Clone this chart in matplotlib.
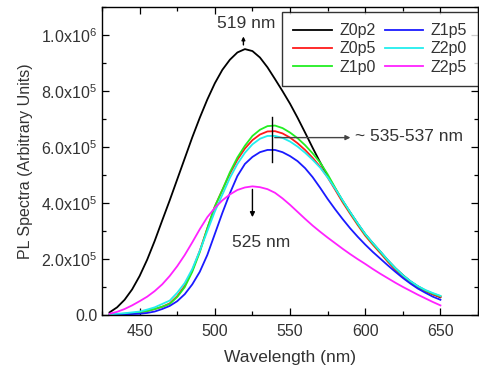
import numpy as np
import matplotlib
matplotlib.use('Agg')
import matplotlib.pyplot as plt
from matplotlib.ticker import MultipleLocator, FuncFormatter

plt.rcParams['font.family'] = ['Liberation Sans', 'DejaVu Sans']
plt.rcParams['mathtext.default'] = 'regular'

# wavelength grid (nm) and PL intensities in units of 1e6
wavelength = np.arange(430, 651, 5)

z0p2 = [0.010, 0.028, 0.055, 0.092, 0.140, 0.198, 0.265, 0.338, 0.410, 0.485,
        0.560, 0.635, 0.705, 0.770, 0.828, 0.876, 0.912, 0.938, 0.950, 0.943,
        0.920, 0.885, 0.843, 0.800, 0.755, 0.705, 0.652, 0.598, 0.546, 0.497,
        0.452, 0.408, 0.367, 0.327, 0.289, 0.257, 0.227, 0.196, 0.168, 0.143,
        0.121, 0.103, 0.088, 0.075, 0.064]
z0p5 = [0.003, 0.004, 0.005, 0.007, 0.010, 0.015, 0.022, 0.030, 0.042, 0.068,
        0.105, 0.160, 0.230, 0.310, 0.388, 0.447, 0.505, 0.555, 0.595, 0.625,
        0.645, 0.656, 0.657, 0.649, 0.634, 0.614, 0.590, 0.562, 0.530, 0.492,
        0.448, 0.403, 0.362, 0.322, 0.284, 0.252, 0.222, 0.191, 0.162, 0.137,
        0.116, 0.099, 0.085, 0.074, 0.065]
z1p0 = [0.003, 0.004, 0.005, 0.007, 0.010, 0.015, 0.022, 0.030, 0.040, 0.065,
        0.100, 0.155, 0.225, 0.310, 0.388, 0.447, 0.510, 0.563, 0.605, 0.640,
        0.662, 0.675, 0.677, 0.668, 0.652, 0.632, 0.607, 0.578, 0.545, 0.503,
        0.455, 0.408, 0.366, 0.326, 0.288, 0.256, 0.226, 0.195, 0.167, 0.142,
        0.120, 0.102, 0.088, 0.077, 0.068]
z1p5 = [0.002, 0.002, 0.003, 0.004, 0.005, 0.008, 0.013, 0.022, 0.033, 0.050,
        0.075, 0.110, 0.155, 0.215, 0.290, 0.365, 0.435, 0.497, 0.540, 0.565,
        0.582, 0.590, 0.590, 0.582, 0.568, 0.550, 0.525, 0.493, 0.455, 0.415,
        0.378, 0.343, 0.310, 0.280, 0.252, 0.226, 0.202, 0.178, 0.155, 0.133,
        0.113, 0.095, 0.080, 0.066, 0.055]
z2p0 = [0.003, 0.005, 0.007, 0.010, 0.013, 0.020, 0.028, 0.040, 0.052, 0.080,
        0.115, 0.165, 0.230, 0.300, 0.370, 0.430, 0.490, 0.540, 0.580, 0.610,
        0.630, 0.640, 0.640, 0.633, 0.620, 0.602, 0.580, 0.555, 0.527, 0.492,
        0.452, 0.410, 0.368, 0.328, 0.290, 0.258, 0.228, 0.197, 0.168, 0.143,
        0.122, 0.104, 0.090, 0.079, 0.069]
z2p5 = [0.005, 0.012, 0.022, 0.035, 0.050, 0.066, 0.086, 0.110, 0.140, 0.175,
        0.215, 0.260, 0.307, 0.350, 0.383, 0.410, 0.431, 0.447, 0.456, 0.460,
        0.457, 0.450, 0.437, 0.417, 0.394, 0.369, 0.344, 0.320, 0.298, 0.277,
        0.257, 0.237, 0.218, 0.200, 0.183, 0.165, 0.148, 0.132, 0.116, 0.101,
        0.087, 0.073, 0.060, 0.047, 0.035]

series = [('Z0p2', z0p2, 'black'), ('Z0p5', z0p5, '#ff1a1a'),
          ('Z1p0', z1p0, '#22ee22'), ('Z1p5', z1p5, '#1a1aff'),
          ('Z2p0', z2p0, '#22eeee'), ('Z2p5', z2p5, '#ff22ff')]

text_color = '#333333'

fig = plt.figure(figsize=(4.79, 3.73), dpi=100)
ax = fig.add_axes([0.213, 0.155, 0.785, 0.826])

for name, vals, c in series:
    ax.plot(wavelength, np.array(vals) * 1e6, color=c, lw=1.3, label=name)

ax.set_xlim(425, 675)
ax.set_ylim(0, 1.1e6)
ax.xaxis.set_major_locator(MultipleLocator(50))
ax.xaxis.set_minor_locator(MultipleLocator(25))
ax.yaxis.set_major_locator(MultipleLocator(2e5))
ax.yaxis.set_minor_locator(MultipleLocator(1e5))


def ylab(v, pos):
    if v <= 0:
        return '0.0'
    e = int(np.floor(np.log10(v) + 1e-9))
    return f'{v / 10**e:.1f}x10$^{{{e}}}$'


ax.yaxis.set_major_formatter(FuncFormatter(ylab))
ax.tick_params(which='both', direction='in', top=True, right=True,
               labelsize=11.5, labelcolor=text_color, width=0.9)
ax.tick_params(axis='x', which='major', pad=6)
ax.tick_params(which='major', length=5)
ax.tick_params(which='minor', length=3)
for s in ax.spines.values():
    s.set_linewidth(1.0)

ax.set_xlabel('Wavelength (nm)', fontsize=12.5, color=text_color, labelpad=8)
ax.set_ylabel('PL Spectra (Arbitrary Units)', fontsize=11.5, color=text_color, labelpad=6)

leg = ax.legend(ncol=2, loc='upper right', bbox_to_anchor=(1.0, 0.984),
                borderaxespad=0, fontsize=11.5, frameon=True, fancybox=False,
                handlelength=2.4, handletextpad=0.45, columnspacing=0.6,
                labelspacing=0.2, borderpad=0.7)
leg.get_frame().set_edgecolor('black')
leg.get_frame().set_linewidth(1.0)
for t in leg.get_texts():
    t.set_color(text_color)

# peak annotations
ax.annotate('', xy=(519, 1.005e6), xytext=(519, 0.955e6),
            arrowprops=dict(arrowstyle='-|>', color='black', lw=1, mutation_scale=5))
ax.text(521, 1.043e6, '519 nm', fontsize=12.5, color=text_color, ha='center', va='center')

ax.plot([538, 538], [0.548e6, 0.706e6], color='black', lw=1)
ax.annotate('', xy=(592, 0.634e6), xytext=(538, 0.634e6),
            arrowprops=dict(arrowstyle='-|>', color='#444444', lw=1, mutation_scale=7))
ax.text(593.5, 0.638e6, '~ 535-537 nm', fontsize=12.5, color=text_color, ha='left', va='center')

ax.annotate('', xy=(525, 0.34e6), xytext=(525, 0.459e6),
            arrowprops=dict(arrowstyle='-|>', color='black', lw=1, mutation_scale=7))
ax.text(531, 0.258e6, '525 nm', fontsize=12.5, color=text_color, ha='center', va='center')

fig.savefig('out.png', dpi=100)
